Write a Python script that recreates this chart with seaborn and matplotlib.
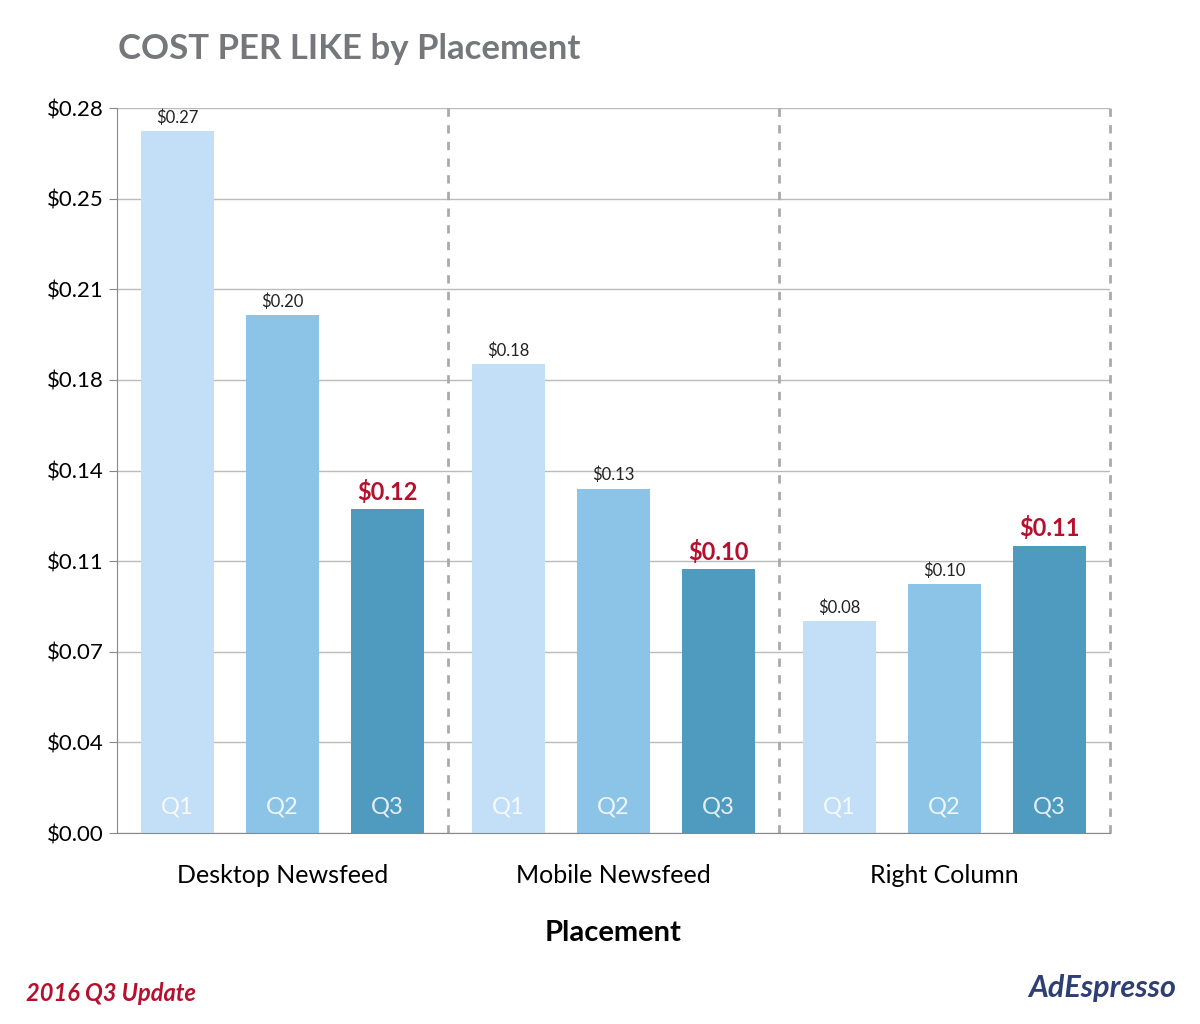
import matplotlib
matplotlib.use("Agg")
import matplotlib.pyplot as plt
import seaborn as sns
import pandas as pd
import numpy as np

placements = ["Desktop Newsfeed", "Mobile Newsfeed", "Right Column"]
quarters = ["Q1", "Q2", "Q3"]
q1 = [0.271, 0.181, 0.082]
q2 = [0.200, 0.133, 0.096]
q3 = [0.125, 0.102, 0.111]
yticks = [0.0, 0.035, 0.07, 0.105, 0.14, 0.175, 0.21, 0.245, 0.28]
ytick_labels = ["$0.00", "$0.04", "$0.07", "$0.11", "$0.14", "$0.18", "$0.21", "$0.25", "$0.28"]
colors = ["#c2dff7", "#8cc4e8", "#4f9abf"]
red = "#b5102d"

rows = []
for i, p in enumerate(placements):
    for q, vals in zip(quarters, [q1, q2, q3]):
        rows.append({"Placement": p, "Quarter": q, "Cost": vals[i]})
df = pd.DataFrame(rows)

plt.rcParams["font.family"] = "Lato"
fig = plt.figure(figsize=(12, 10.24), dpi=100)
ax = fig.add_axes([0.0975, 0.1865, 0.8275, 0.708])
sns.barplot(data=df, x="Placement", y="Cost", hue="Quarter", hue_order=quarters,
            palette=colors, width=0.95, gap=0.3, ax=ax, legend=False, saturation=1)

ax.set_ylim(0, 0.28)
ax.set_xlim(-0.5, 2.5)
ax.set_yticks(yticks)
ax.set_yticklabels(ytick_labels, fontsize=16)
ax.tick_params(axis="y", length=6, color="#888888")
ax.tick_params(axis="x", length=0, labelsize=18, pad=22)
ax.set_ylabel("")
ax.set_xlabel("Placement", fontsize=21, fontweight="bold", labelpad=24)
ax.grid(axis="y", color="#bbbbbb", linewidth=1)
ax.set_axisbelow(True)
for s in ["top", "right"]:
    ax.spines[s].set_visible(False)
ax.spines["left"].set_color("#888888")
ax.spines["bottom"].set_color("#888888")
for xv in [0.5, 1.5, 2.5]:
    ax.axvline(xv, color="#aaaaaa", linestyle=(0, (3, 3)), linewidth=2, clip_on=False)

for qi, cont in enumerate(ax.containers):
    for bar in cont:
        h = bar.get_height()
        xc = bar.get_x() + bar.get_width() / 2
        if qi == 2:
            ax.text(xc, h + 0.002, f"${h:.2f}", ha="center", va="bottom",
                    fontsize=17, fontweight="bold", color=red)
        else:
            ax.text(xc, h + 0.002, f"${h:.2f}", ha="center", va="bottom",
                    fontsize=12, color="#222222")
        ax.text(xc, 0.006, quarters[qi], ha="center", va="bottom", fontsize=17,
                color="white", alpha=0.85)

fig.text(0.098, 0.952, "COST PER LIKE by Placement", fontsize=25, fontweight="bold",
         color="#76777b", va="center")
fig.text(0.022, 0.03, "2016 Q3 Update", fontsize=17, fontweight="bold", style="italic",
         color=red, va="center")
fig.text(0.98, 0.035, "AdEspresso", fontsize=22, fontweight="bold", style="italic",
         color="#2d3f73", va="center", ha="right")
fig.savefig("out.png", dpi=100, facecolor="white")
